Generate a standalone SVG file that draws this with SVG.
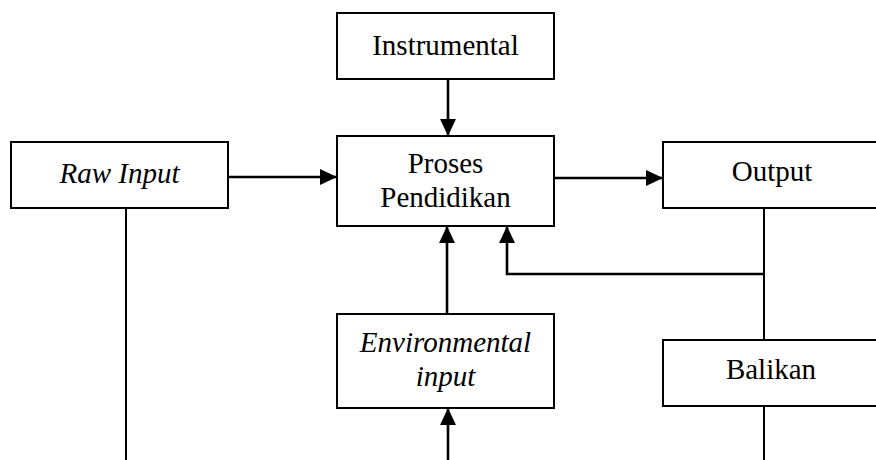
<svg xmlns="http://www.w3.org/2000/svg" width="876" height="460" viewBox="0 0 876 460">
  <style>
    .box { fill: #ffffff; stroke: #000000; stroke-width: 2; }
    .lbl { font-family: "Liberation Serif", "Times New Roman", serif; font-size: 29px; fill: #000000; text-anchor: middle; }
    .it { font-style: italic; }
    .arrow { fill: none; stroke: #000000; stroke-width: 2.6; marker-end: url(#head); }
    .plain { fill: none; stroke: #000000; stroke-width: 2; }
  </style>
  <defs>
    <marker id="head" markerUnits="userSpaceOnUse" markerWidth="18" markerHeight="16" refX="17" refY="8" orient="auto">
      <path d="M0,0 L17,8 L0,16 Z" fill="#000000"/>
    </marker>
  </defs>
  <rect width="876" height="460" fill="#ffffff"/>

  <g id="connectors">
    <!-- Instrumental down into Proses -->
    <line class="arrow" x1="448" y1="79" x2="448" y2="136"/>
    <!-- Raw Input into Proses -->
    <line class="arrow" x1="228" y1="177" x2="337" y2="177"/>
    <!-- Proses into Output -->
    <line class="arrow" x1="554" y1="178" x2="663" y2="178"/>
    <!-- Environmental input up into Proses -->
    <line class="arrow" x1="447" y1="314" x2="447" y2="226"/>
    <!-- feedback loop from Output back to Proses -->
    <polyline class="arrow" points="764,274 507,274 507,226"/>
    <line class="plain" x1="764" y1="208" x2="764" y2="340"/>
    <!-- Balikan continues down -->
    <line class="plain" x1="764" y1="406" x2="764" y2="460"/>
    <!-- Raw Input continues down -->
    <line class="plain" x1="126" y1="208" x2="126" y2="460"/>
    <!-- line from below into Environmental input -->
    <line class="arrow" x1="448" y1="460" x2="448" y2="408"/>
  </g>

  <g id="instrumental">
    <rect class="box" x="337" y="13" width="217" height="66"/>
    <text class="lbl" x="445.5" y="55">Instrumental</text>
  </g>

  <g id="raw-input">
    <rect class="box" x="11" y="142" width="217" height="66"/>
    <text class="lbl it" x="119.5" y="183">Raw Input</text>
  </g>

  <g id="proses">
    <rect class="box" x="337" y="136" width="217" height="90"/>
    <text class="lbl" x="445.5" y="173">Proses</text>
    <text class="lbl" x="445.5" y="207">Pendidikan</text>
  </g>

  <g id="output">
    <rect class="box" x="663" y="142" width="217" height="66"/>
    <text class="lbl" x="772" y="181">Output</text>
  </g>

  <g id="environmental-input">
    <rect class="box" x="337" y="314" width="217" height="94"/>
    <text class="lbl it" x="445.5" y="352">Environmental</text>
    <text class="lbl it" x="445.5" y="386">input</text>
  </g>

  <g id="balikan">
    <rect class="box" x="663" y="340" width="217" height="66"/>
    <text class="lbl" x="771" y="379">Balikan</text>
  </g>
</svg>
